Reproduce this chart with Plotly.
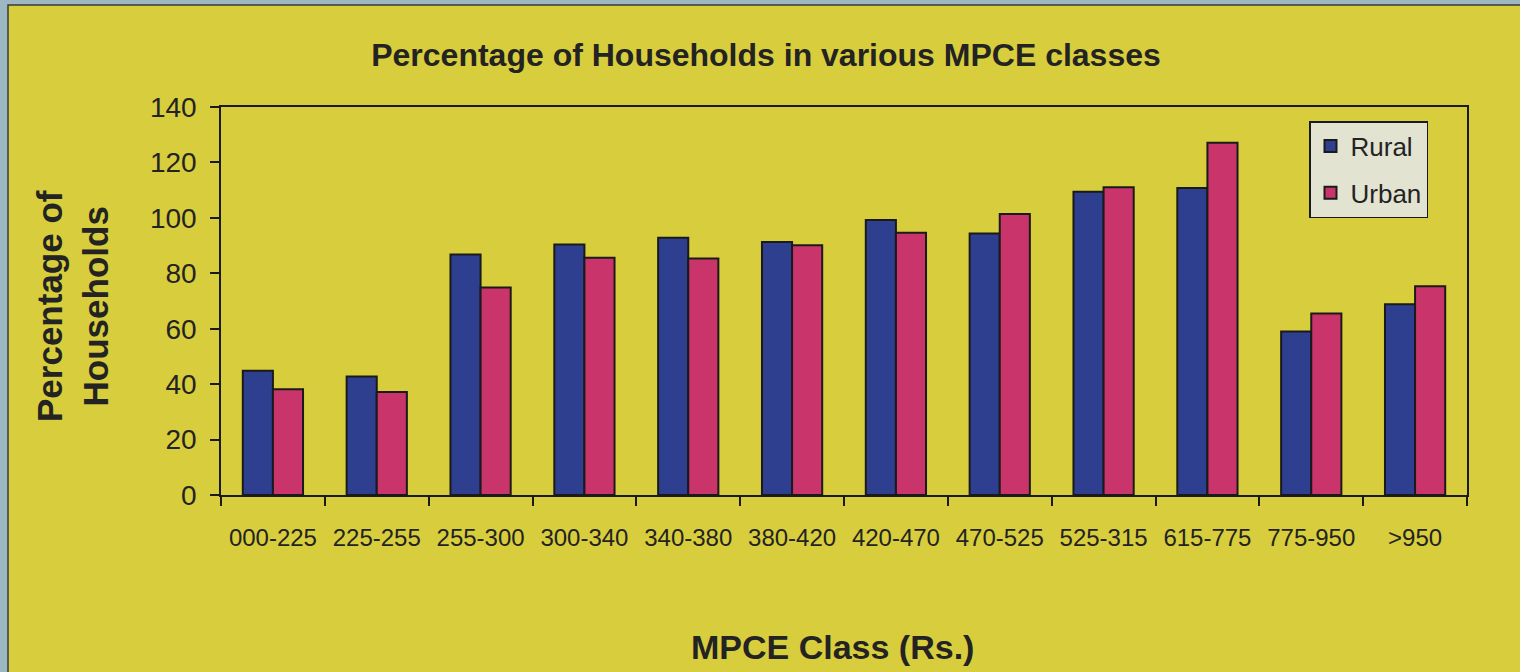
import plotly.graph_objects as go

categories = ["000-225", "225-255", "255-300", "300-340", "340-380", "380-420",
              "420-470", "470-525", "525-315", "615-775", "775-950", ">950"]
rural = [44.8, 42.8, 86.8, 90.4, 92.8, 91.3, 99.2, 94.4, 109.4, 110.8, 59.0, 68.8]
urban = [38.2, 37.2, 74.9, 85.6, 85.3, 90.1, 94.6, 101.4, 111.0, 127.1, 65.5, 75.3]
y_ticks = [0, 20, 40, 60, 80, 100, 120, 140]

FONT = "Liberation Sans, Arial, sans-serif"
TXT = "#232323"
YELLOW = "#d8cd3c"
PLOTBG = "#e3e3d2"

fig = go.Figure()
fig.add_trace(go.Bar(name="Rural", x=categories, y=rural, legendgroup="r",
                     marker=dict(color="#2d3f8e", line=dict(color="#1a1a1a", width=2))))
fig.add_trace(go.Bar(name="Urban", x=categories, y=urban, legendgroup="u",
                     marker=dict(color="#c9356b", line=dict(color="#1a1a1a", width=2))))

L, R, T, B = 221, 53, 107, 177
W, H = 1520, 672
pw, ph = W - L - R, H - T - B

def px(xp):
    return (xp - L) / pw

def py(yp):
    return (H - B - yp) / ph

fig.update_layout(
    width=W, height=H,
    margin=dict(l=L, r=R, t=T, b=B),
    paper_bgcolor="#9db8c2",
    plot_bgcolor=PLOTBG,
    barmode="group", bargap=0.42, bargroupgap=0,
    font=dict(family=FONT, color=TXT),
    title=dict(text="<b>Percentage of Households in various MPCE classes</b>",
               x=766 / W, xref="container", xanchor="center",
               y=1 - 55 / H, yref="container", yanchor="middle",
               font=dict(size=32, family=FONT, color=TXT)),
    legend=dict(x=px(1309), y=py(121), xanchor="left", yanchor="top",
                bgcolor=PLOTBG, bordercolor="#1a1a1a", borderwidth=1.5,
                font=dict(size=26, family=FONT, color=TXT),
                traceorder="grouped", tracegroupgap=10),
    shapes=[dict(type="rect", xref="paper", yref="paper", layer="below",
                 x0=px(8), x1=px(W + 10), y0=py(H + 10), y1=py(5),
                 fillcolor=YELLOW, line=dict(color="#3a3a3a", width=1.5))],
    annotations=[
        dict(text="<b>Percentage of<br>Households</b>", textangle=-90,
             xref="paper", yref="paper", x=px(72), y=py(306),
             xanchor="center", yanchor="middle", showarrow=False,
             font=dict(size=35, family=FONT, color=TXT)),
        dict(text="<b>MPCE Class (Rs.)</b>",
             xref="paper", yref="paper", x=px(832), y=py(647),
             xanchor="center", yanchor="middle", showarrow=False,
             font=dict(size=34, family=FONT, color=TXT)),
    ],
)

fig.update_xaxes(type="category", showline=True, linecolor="#1a1a1a", linewidth=1.5,
                 mirror=True, ticks="outside", tickson="boundaries", ticklen=9,
                 tickcolor="#1a1a1a", tickwidth=1.5, showgrid=False,
                 tickfont=dict(size=24, family=FONT, color=TXT), ticklabelstandoff=20)
fig.update_yaxes(range=[0, 140], tickvals=y_ticks, showline=True, linecolor="#1a1a1a",
                 linewidth=1.5, mirror=True, ticks="outside", ticklen=9,
                 tickcolor="#1a1a1a", tickwidth=1.5, showgrid=False, zeroline=False,
                 tickfont=dict(size=28, family=FONT, color=TXT), ticklabelstandoff=8)

fig.write_html("out.html", config={"displayModeBar": False},
               post_script="document.body.style.margin='0';")
